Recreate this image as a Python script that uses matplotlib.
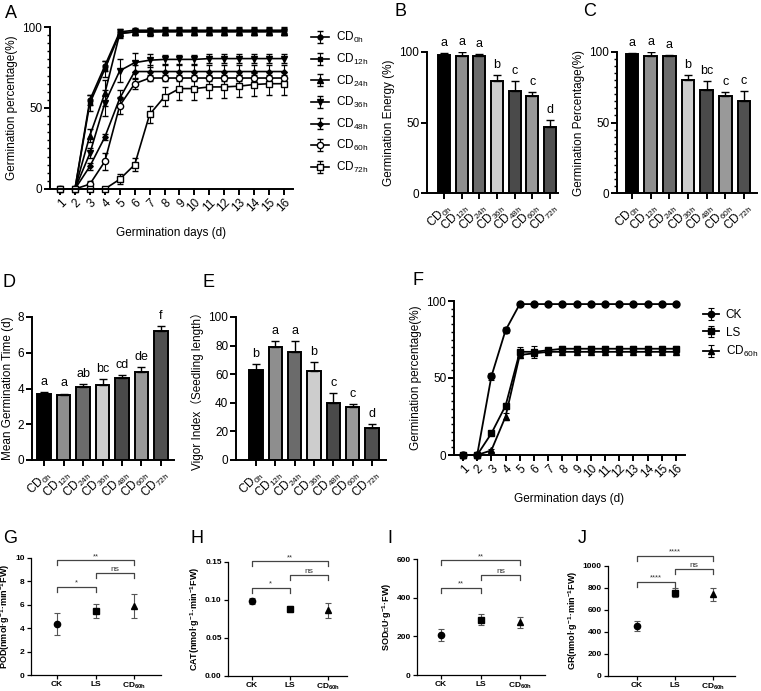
import matplotlib
matplotlib.use('Agg')
import matplotlib.pyplot as plt
import numpy as np

plt.rcParams['font.family'] = ['Liberation Sans', 'Noto Sans CJK SC', 'DejaVu Sans']
plt.rcParams['mathtext.fontset'] = 'custom'
plt.rcParams['mathtext.rm'] = 'Liberation Sans'
plt.rcParams['mathtext.it'] = 'Liberation Sans:italic'
plt.rcParams['mathtext.bf'] = 'Liberation Sans:bold'

# ---------------- data ----------------
days = list(range(1, 17))
treatments = ['0h', '12h', '24h', '36h', '48h', '60h', '72h']
cd_labels = [r'CD$_{\mathrm{%s}}$' % t for t in treatments]

# Panel A: germination percentage over days
A_CD0h = [0, 0, 55, 76, 97, 98, 98, 98, 98, 98, 98, 98, 98, 98, 98, 98]
A_CD12h = [0, 0, 53, 74, 96, 97, 97, 97.5, 97.5, 97.5, 97.5, 97.5, 97.5, 97.5, 97.5, 97.5]
A_CD24h = [0, 0, 33, 59, 96, 97, 97, 97, 97, 97, 97, 97, 97, 97, 97, 97]
A_CD36h = [0, 0, 22, 53, 73, 78, 79.5, 80, 80, 80, 80.5, 80.5, 80.5, 80.5, 80.5, 80.5]
A_CD48h = [0, 0, 14, 32, 56, 72.5, 72.5, 72.5, 72.5, 72.5, 72.5, 72.5, 72.5, 72.5, 72.5, 72.5]
A_CD60h = [0, 0, 3, 17, 51.5, 65, 68.5, 68.5, 68.5, 68.5, 68.5, 68.5, 68.5, 68.5, 68.5, 68.5]
A_CD72h = [0, 0, 0, 0, 6, 15, 46, 57, 62, 62, 63, 63, 63.5, 64.5, 65, 65]
A_err0 = [0, 0, 3, 3, 1.5, 1.5, 1.5, 1.5, 1.5, 1.5, 1.5, 1.5, 1.5, 1.5, 1.5, 1.5]
A_err12 = [0, 0, 5, 5, 2, 2, 2.5, 2.5, 2.5, 2.5, 2.5, 2.5, 2.5, 2.5, 2.5, 2.5]
A_err24 = [0, 0, 4, 8, 3, 2, 2, 2, 2, 2, 2, 2, 2, 2, 2, 2]
A_err36 = [0, 0, 3, 8, 7, 6, 4, 3, 3, 3, 3, 3, 3, 3, 3, 3]
A_err48 = [0, 0, 2, 2, 5, 4, 4, 4, 4, 4, 4, 4, 4, 4, 4, 4]
A_err60 = [0, 0, 2, 5, 5, 3, 2, 2, 2, 2, 2, 2, 2, 2, 2, 2]
A_err72 = [0, 0, 0, 0, 3, 4, 5, 6, 7, 7, 7, 7, 7, 7, 7, 7]

# Panel B: germination energy
B_vals = [98, 97, 97, 79.4, 72.5, 68.8, 46.6]
B_err = [1, 3, 1.5, 4, 7, 2.6, 5]
B_letters = ['a', 'a', 'a', 'b', 'c', 'c', 'd']

# Panel C: germination percentage
C_vals = [98.5, 97, 97, 80, 72.8, 68.6, 65]
C_err = [1, 3, 1, 3.4, 6.6, 2.8, 7.3]
C_letters = ['a', 'a', 'a', 'b', 'bc', 'c', 'c']

# Panel D: mean germination time
D_vals = [3.68, 3.62, 4.08, 4.18, 4.57, 4.92, 7.22]
D_err = [0.1, 0.1, 0.17, 0.33, 0.2, 0.28, 0.28]
D_letters = ['a', 'a', 'ab', 'bc', 'cd', 'de', 'f']

# Panel E: vigor index
E_vals = [63, 79, 75.3, 62.2, 39.6, 37.3, 22.1]
E_err = [4, 4.4, 8, 6.5, 7, 1.7, 3.3]
E_letters = ['b', 'a', 'a', 'b', 'c', 'c', 'd']

# Panel F
F_CK = [0, 0, 51, 81, 98, 98, 98, 98, 98, 98, 98, 98, 98, 98, 98, 98]
F_LS = [0, 0, 14, 32, 67, 67, 68, 69, 69, 69, 69, 69, 69, 69, 69, 69]
F_CD60h = [0, 0, 3, 25, 65, 66, 67, 67, 67, 67, 67, 67, 67, 67, 67, 67]
F_errCK = [0, 0, 2, 2, 0.5, 0.5, 0.5, 0.5, 0.5, 0.5, 0.5, 0.5, 0.5, 0.5, 0.5, 0.5]
F_errLS = [0, 0, 1, 2, 3, 4, 1.5, 1.5, 1.5, 1.5, 1.5, 1.5, 1.5, 1.5, 1.5, 1.5]
F_errCD = [0, 0, 1, 2, 2, 2, 1, 1, 1, 1, 1, 1, 1, 1, 1, 1]

# Panels G-J
groups = ['CK', 'LS', r'CD$_{\mathbf{60h}}$']
G_vals = [4.35, 5.5, 5.9]
G_err = [0.95, 0.6, 1.0]
H_vals = [0.098, 0.088, 0.086]
H_err = [0.004, 0.004, 0.0095]
I_vals = [208, 287, 273]
I_err = [30, 27, 28]
J_vals = [452, 755, 740]
J_err = [45, 40, 60]
G_sig = ['*', 'ns', '**']
H_sig = ['*', 'ns', '**']
I_sig = ['**', 'ns', '**']
J_sig = ['****', 'ns', '****']

bar_colors = ['#000000', '#8e8e8e', '#6b6b6b', '#cdcdcd', '#4a4a4a', '#999999', '#505050']

# ---------------- figure ----------------
W, H = 761, 691
fig = plt.figure(figsize=(W / 100, H / 100), dpi=100)


def add_ax(left, right, top, bottom):
    return fig.add_axes([left / W, 1 - bottom / H, (right - left) / W, (bottom - top) / H])


def style(ax, lw=1.4, fs=8.5, bold=False):
    for s in ['top', 'right']:
        ax.spines[s].set_visible(False)
    for s in ['left', 'bottom']:
        ax.spines[s].set_linewidth(lw)
    ax.tick_params(width=lw, length=4, labelsize=fs, direction='out', pad=1.5)
    if bold:
        for lab in ax.get_yticklabels() + ax.get_xticklabels():
            lab.set_fontweight('bold')


def panel_label(x, y, s):
    fig.text(x / W, 1 - y / H, s, fontsize=13, ha='left', va='top')


# Panel A
axA = add_ax(50, 293, 27, 189)
A_series = [A_CD0h, A_CD12h, A_CD24h, A_CD36h, A_CD48h, A_CD60h, A_CD72h]
A_errs = [A_err0, A_err12, A_err24, A_err36, A_err48, A_err60, A_err72]
A_markers = ['o', 's', '^', 'v', 'D', 'o', 's']
A_ms = [3.5, 3.5, 4, 4, 2.8, 4.5, 4.5]
A_mfc = ['k', 'k', 'k', 'k', 'k', 'white', 'white']
for ser, er, m, ms, mfc, lab in zip(A_series, A_errs, A_markers, A_ms, A_mfc, cd_labels):
    axA.errorbar(days, ser, yerr=er, color='k', marker=m, ms=ms, mfc=mfc, mec='k', mew=1.0,
                 lw=1.2, capsize=2.5, elinewidth=0.8, capthick=0.8, label=lab, clip_on=False)
axA.set_xlim(0.33, 16.6)
axA.set_ylim(0, 100)
axA.set_yticks([0, 50, 100])
axA.set_yticks(np.arange(0, 101, 5), minor=True)
axA.tick_params(axis='y', which='minor', length=2.5, width=1.0)
axA.set_xticks(days)
style(axA)
axA.set_xticklabels([str(d) for d in days], rotation=45, ha='right', rotation_mode='anchor')
axA.set_ylabel('Germination percentage(%)', fontsize=8.5, labelpad=3)
axA.set_xlabel('Germination days (d)', fontsize=8.5, labelpad=9)
axA.legend(loc='upper left', bbox_to_anchor=(303 / W, 1 - 22 / H), bbox_transform=fig.transFigure,
           frameon=False, fontsize=8.5, handlelength=1.5, labelspacing=0.55, handletextpad=0.6,
           borderpad=0.2)
panel_label(5, 5, 'A')


def bar_panel(ax, vals, err, letters, ylim, yticks, ylabel, xlim, minor=None, letter_fs=9):
    x = np.arange(len(vals))
    ax.bar(x, vals, width=0.68, color=bar_colors, edgecolor='k', linewidth=1.4, zorder=2)
    ax.errorbar(x, vals, yerr=[np.zeros(len(err)), err], fmt='none', ecolor='k', elinewidth=1.0,
                capsize=3, capthick=1.0, zorder=3)
    for xi, v, e, l in zip(x, vals, err, letters):
        ax.annotate(l, (xi, v + e), xytext=(0, 3), textcoords='offset points', ha='center', va='bottom',
                    fontsize=letter_fs)
    ax.set_xlim(*xlim)
    ax.set_ylim(*ylim)
    ax.set_yticks(yticks)
    if minor is not None:
        ax.set_yticks(minor, minor=True)
        ax.tick_params(axis='y', which='minor', length=2.5, width=1.0)
    ax.set_xticks(x)
    style(ax)
    ax.set_xticklabels(cd_labels, rotation=45, ha='right', rotation_mode='anchor', fontsize=8.5)
    ax.set_ylabel(ylabel, fontsize=8.5, labelpad=3)


axB = add_ax(427, 558, 52, 193)
bar_panel(axB, B_vals, B_err, B_letters, (0, 100), [0, 50, 100], 'Germination Energy (%)', (-0.96, 6.45))
panel_label(395, 3, 'B')

axC = add_ax(617, 757, 52, 193)
bar_panel(axC, C_vals, C_err, C_letters, (0, 100), [0, 50, 100], 'Germination Percentage(%)', (-0.8, 6.7),
          minor=np.arange(0, 101, 5))
panel_label(583, 3, 'C')

axD = add_ax(32, 174, 317, 460)
bar_panel(axD, D_vals, D_err, D_letters, (0, 8), [0, 2, 4, 6, 8], 'Mean Germination Time (d)', (-0.62, 6.67))
panel_label(3, 274, 'D')

axE = add_ax(236, 386, 317, 460)
bar_panel(axE, E_vals, E_err, E_letters, (0, 100), [0, 20, 40, 60, 80, 100], 'Vigor Index\uff08Seedling length\uff09',
          (-1.03, 6.72))
panel_label(203, 274, 'E')

# Panel F
axF = add_ax(454, 685, 301, 455)
F_series = [F_CK, F_LS, F_CD60h]
F_errs = [F_errCK, F_errLS, F_errCD]
F_markers = ['o', 's', '^']
F_labels = ['CK', 'LS', r'CD$_{\mathrm{60h}}$']
for ser, er, m, lab in zip(F_series, F_errs, F_markers, F_labels):
    axF.errorbar(days, ser, yerr=er, color='k', marker=m, ms=5, lw=1.3, capsize=2.5,
                 elinewidth=0.8, capthick=0.8, label=lab, clip_on=False)
axF.set_xlim(0.37, 16.63)
axF.set_ylim(0, 100)
axF.set_yticks([0, 50, 100])
axF.set_yticks(np.arange(0, 101, 5), minor=True)
axF.tick_params(axis='y', which='minor', length=2.5, width=1.0)
axF.set_xticks(days)
style(axF)
axF.set_xticklabels([str(d) for d in days], rotation=45, ha='right', rotation_mode='anchor')
axF.set_ylabel('Germination percentage(%)', fontsize=8.5, labelpad=3)
axF.set_xlabel('Germination days (d)', fontsize=8.5, labelpad=9)
axF.legend(loc='upper left', bbox_to_anchor=(695 / W, 1 - 301 / H), bbox_transform=fig.transFigure,
           frameon=False, fontsize=8.5, handlelength=1.3, labelspacing=0.45, handletextpad=0.6,
           borderpad=0.2, markerscale=0.9)
panel_label(413, 272, 'F')


def enzyme_panel(ax, vals, err, ylim, yticks, ylabel, xlim, sig, brackets):
    x = np.arange(3)
    for xi, v, e, m in zip(x, vals, err, ['o', 's', '^']):
        ax.errorbar([xi], [v], yerr=[e], fmt=m, color='k', ms=4.5, ecolor='#555555', elinewidth=0.8,
                    capsize=2.5, capthick=0.8)
    for (i, j), s, (yh, yd) in zip([(0, 1), (1, 2), (0, 2)], sig, brackets):
        ax.plot([i, i, j, j], [yd, yh, yh, yd], color='#444444', lw=0.9, clip_on=False)
        ax.text((i + j) / 2, yh, s, ha='center', va='bottom', fontsize=6 if s == 'ns' else 5.5,
                color='#333333')
    ax.set_xlim(*xlim)
    ax.set_ylim(*ylim)
    ax.set_yticks(yticks)
    ax.set_xticks(x)
    ax.set_xticklabels(groups)
    style(ax, lw=0.9, fs=6, bold=True)
    ax.tick_params(length=3)
    ax.set_ylabel(ylabel, fontsize=6.5, fontweight='bold', labelpad=2)


sup = r'$^{\mathbf{-1}}$'
axG = add_ax(31, 161, 558, 675)
enzyme_panel(axG, G_vals, G_err, (0, 10), [0, 2, 4, 6, 8, 10],
             'POD(nmol·g' + sup + '·min' + sup + 'FW)', (-0.675, 2.7), G_sig,
             [(7.55, 7.1), (8.75, 8.25), (9.8, 9.4)])
panel_label(3, 530, 'G')

axH = add_ax(228, 347, 561.7, 675.7)
enzyme_panel(axH, H_vals, H_err, (0, 0.15), [0, 0.05, 0.10, 0.15],
             'CAT(nmol·g' + sup + '·min' + sup + 'FW)', (-0.62, 2.5), H_sig,
             [(0.1158, 0.109), (0.133, 0.126), (0.151, 0.144)])
axH.set_yticklabels(['0.00', '0.05', '0.10', '0.15'])
for lab in axH.get_yticklabels():
    lab.set_fontweight('bold')
panel_label(190, 530, 'H')

axI = add_ax(417, 545, 559, 675)
enzyme_panel(axI, I_vals, I_err, (0, 600), [0, 200, 400, 600],
             'SOD\uff08U·g' + sup + '·FW)', (-0.61, 2.63), I_sig,
             [(452, 425), (517, 491), (595, 569)])
panel_label(387, 530, 'I')

axJ = add_ax(608, 735, 565.7, 675.7)
enzyme_panel(axJ, J_vals, J_err, (0, 1000), [0, 200, 400, 600, 800, 1000],
             'GR(nmol·g' + sup + '·min' + sup + 'FW)', (-0.76, 2.58), J_sig,
             [(855, 809), (970, 925), (1091, 1045)])
panel_label(578, 530, 'J')

fig.savefig('out.png', dpi=100)
